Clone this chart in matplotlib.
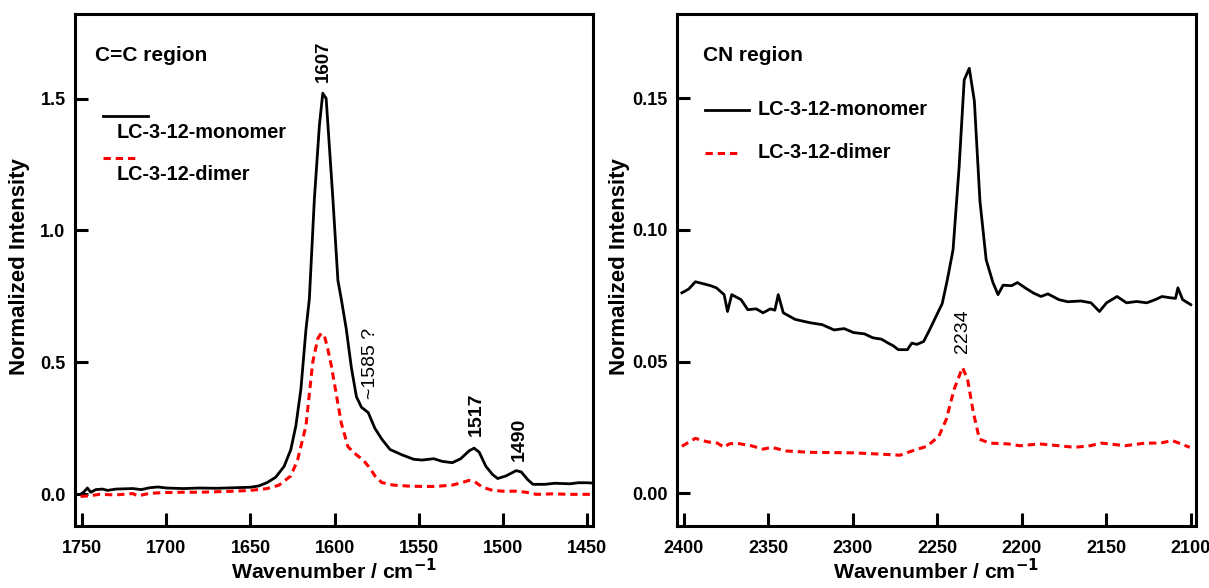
import numpy as np
import matplotlib
matplotlib.use('Agg')
import matplotlib.pyplot as plt

# ---- data ----
# C=C region
cc_x_mono = [1751, 1749, 1747, 1745, 1742, 1738, 1735, 1730, 1720, 1715, 1710, 1705,
             1700, 1690, 1680, 1670, 1660, 1650, 1645, 1640, 1635, 1630, 1626, 1623,
             1620, 1617, 1615, 1612, 1609, 1607, 1605, 1601, 1598, 1596, 1593, 1590,
             1587, 1584, 1580, 1576, 1572, 1567, 1560, 1553, 1548, 1541, 1536, 1530,
             1525, 1520, 1517, 1514, 1510, 1506, 1503, 1498, 1492, 1489, 1485, 1482,
             1475, 1469, 1460, 1455, 1450, 1447]
cc_y_mono = [0.000, 0.010, 0.024, 0.008, 0.018, 0.020, 0.015, 0.020, 0.022, 0.018, 0.025, 0.028,
             0.024, 0.022, 0.024, 0.023, 0.025, 0.027, 0.032, 0.045, 0.065, 0.106, 0.170, 0.260,
             0.400, 0.625, 0.740, 1.120, 1.400, 1.520, 1.500, 1.120, 0.810, 0.740, 0.625, 0.480,
             0.370, 0.330, 0.310, 0.250, 0.210, 0.170, 0.150, 0.133, 0.130, 0.135, 0.125, 0.120,
             0.135, 0.165, 0.175, 0.160, 0.106, 0.075, 0.060, 0.070, 0.090, 0.085, 0.055, 0.038,
             0.038, 0.042, 0.040, 0.044, 0.044, 0.043]

cc_x_dimer = [1751, 1745, 1740, 1730, 1720, 1717, 1710, 1700, 1690, 1680, 1670, 1660,
              1650, 1640, 1633, 1626, 1622, 1617, 1613, 1610, 1608, 1606, 1604, 1602,
              1599, 1596, 1592, 1587, 1583, 1579, 1576, 1572, 1565, 1555, 1548, 1540,
              1530, 1524, 1520, 1516, 1512, 1506, 1500, 1492, 1486, 1480, 1470, 1460,
              1450, 1447]
cc_y_dimer = [-0.008, -0.005, 0.000, -0.002, 0.003, -0.006, 0.004, 0.007, 0.008, 0.008, 0.010, 0.012,
              0.015, 0.022, 0.035, 0.070, 0.130, 0.260, 0.500, 0.590, 0.610, 0.600, 0.550, 0.490,
              0.380, 0.270, 0.180, 0.150, 0.130, 0.100, 0.070, 0.045, 0.035, 0.031, 0.030, 0.030,
              0.035, 0.045, 0.053, 0.045, 0.027, 0.015, 0.012, 0.012, 0.008, 0.000, 0.002, 0.000,
              0.000, 0.000]

# CN region
cn_x_mono = [2401, 2397, 2393, 2388, 2384, 2380.6, 2376, 2374, 2371.5, 2366, 2362, 2357,
             2353, 2348.6, 2346, 2344, 2341, 2334, 2325, 2318, 2311, 2305, 2299.5, 2293,
             2288, 2283, 2279, 2276, 2273, 2267.6, 2265, 2262, 2258, 2254.5, 2251, 2247,
             2244, 2240.6, 2237, 2234, 2231, 2228, 2224.7, 2221, 2217, 2214, 2211, 2206,
             2202.5, 2198, 2193, 2188.6, 2184.5, 2178, 2172.7, 2165, 2159, 2154, 2149.8, 2143.6,
             2138, 2132, 2126, 2121, 2117, 2112, 2109, 2107.6, 2104.8, 2100]
cn_y_mono = [0.0761, 0.0775, 0.0803, 0.0795, 0.0788, 0.0780, 0.0754, 0.0690, 0.0754, 0.0735, 0.0697, 0.0700,
             0.0685, 0.0700, 0.0695, 0.0754, 0.0685, 0.0660, 0.0647, 0.0640, 0.0620, 0.0625, 0.0610, 0.0605,
             0.0590, 0.0585, 0.0570, 0.0560, 0.0545, 0.0545, 0.0570, 0.0565, 0.0576, 0.0620, 0.0667, 0.0720,
             0.0810, 0.0924, 0.1240, 0.1570, 0.1614, 0.1490, 0.1110, 0.0886, 0.0800, 0.0754, 0.0790, 0.0788,
             0.0800, 0.0780, 0.0760, 0.0747, 0.0757, 0.0735, 0.0727, 0.0730, 0.0723, 0.0690, 0.0723, 0.0747,
             0.0723, 0.0728, 0.0723, 0.0735, 0.0747, 0.0742, 0.0740, 0.0780, 0.0735, 0.0716]

cn_x_dimer = [2401, 2393, 2386, 2380, 2376, 2373, 2369, 2360, 2353, 2348, 2339, 2325,
              2312, 2299.5, 2283, 2272, 2265, 2256, 2249, 2244.6, 2240, 2235, 2232, 2228.6,
              2225, 2219, 2208, 2201, 2189.5, 2178, 2168.8, 2159.6, 2152.7, 2138.8, 2127, 2118,
              2111, 2100.6]
cn_y_dimer = [0.0178, 0.0208, 0.0195, 0.0190, 0.0174, 0.0187, 0.0190, 0.0180, 0.0167, 0.0174, 0.0160, 0.0155,
              0.0154, 0.0153, 0.0148, 0.0144, 0.0160, 0.0178, 0.0216, 0.0280, 0.0394, 0.0477, 0.0432, 0.0307,
              0.0205, 0.0190, 0.0187, 0.0180, 0.0187, 0.0180, 0.0174, 0.0180, 0.0190, 0.0180, 0.0190, 0.0190,
              0.0200, 0.0174]

labels = ['LC-3-12-monomer', 'LC-3-12-dimer']

# ---- style ----
plt.rcParams['font.family'] = ['Liberation Sans', 'DejaVu Sans']
plt.rcParams['font.weight'] = 'bold'

fig = plt.figure(figsize=(12.09, 5.88), dpi=100)
ax1 = fig.add_axes([0.0617, 0.1054, 0.4288, 0.8707])
ax2 = fig.add_axes([0.5598, 0.1054, 0.4293, 0.8707])

dash = (2.4, 1.6)


def style_axes(ax, ylab_x):
    for s in ax.spines.values():
        s.set_linewidth(2.2)
    ax.tick_params(direction='in', length=9.5, width=2.2, labelsize=13, pad=6.5,
                   top=False, right=False)
    ax.tick_params(axis='x', pad=10)
    for t in ax.get_xticklabels() + ax.get_yticklabels():
        t.set_fontweight('bold')
    ax.set_xlabel('Wavenumber / cm$^{\\mathbf{-1}}$', fontsize=15.3, fontweight='bold', labelpad=1)
    ax.set_ylabel('Normalized Intensity', fontsize=16, fontweight='bold')
    ax.yaxis.set_label_coords(ylab_x, 0.507)


# left panel
ax1.plot(cc_x_mono, cc_y_mono, color='black', lw=2.0)
ax1.plot(cc_x_dimer, cc_y_dimer, color='#ff0000', lw=2.2, dashes=dash)
ax1.set_xlim(1754.6, 1446.3)
ax1.set_ylim(-0.12, 1.82)
ax1.set_xticks(np.arange(1750, 1449, -50))
ax1.set_yticks([0.0, 0.5, 1.0, 1.5])
ax1.set_yticklabels(['0.0', '0.5', '1.0', '1.5'])
style_axes(ax1, -0.086)

ax1.text(0.04, 0.92, 'C=C region', transform=ax1.transAxes, fontsize=15, va='center', ha='left')
ax1.plot([0.055, 0.142], [0.801, 0.801], transform=ax1.transAxes, color='black', lw=2.0)
ax1.text(0.082, 0.768, labels[0], transform=ax1.transAxes, fontsize=14.3, va='center', ha='left')
ax1.plot([0.055, 0.124], [0.719, 0.719], transform=ax1.transAxes, color='#ff0000', lw=2.2, dashes=dash)
ax1.text(0.082, 0.686, labels[1], transform=ax1.transAxes, fontsize=14.3, va='center', ha='left')

ax1.text(1606.5, 1.564, '1607', rotation=90, ha='center', va='bottom', fontsize=13.5,
         fontweight='bold')
ax1.text(1578.4, 0.496, '~1585 ?', rotation=90, ha='center', va='center', fontsize=14,
         fontweight='normal')
ax1.text(1515.6, 0.303, '1517', rotation=90, ha='center', va='center', fontsize=14,
         fontweight='bold')
ax1.text(1490.3, 0.208, '1490', rotation=90, ha='center', va='center', fontsize=14,
         fontweight='bold')

# right panel
ax2.plot(cn_x_mono, cn_y_mono, color='black', lw=2.0)
ax2.plot(cn_x_dimer, cn_y_dimer, color='#ff0000', lw=2.2, dashes=dash)
ax2.set_xlim(2404, 2097)
ax2.set_ylim(-0.0125, 0.182)
ax2.set_xticks(np.arange(2400, 2099, -50))
ax2.set_yticks([0.0, 0.05, 0.10, 0.15])
ax2.set_yticklabels(['0.00', '0.05', '0.10', '0.15'])
style_axes(ax2, -0.090)

ax2.text(0.05, 0.92, 'CN region', transform=ax2.transAxes, fontsize=15, va='center', ha='left')
ax2.plot([0.054, 0.140], [0.813, 0.813], transform=ax2.transAxes, color='black', lw=2.0)
ax2.text(0.156, 0.813, labels[0], transform=ax2.transAxes, fontsize=14.3, va='center', ha='left')
ax2.plot([0.054, 0.124], [0.729, 0.729], transform=ax2.transAxes, color='#ff0000', lw=2.2, dashes=dash)
ax2.text(0.156, 0.729, labels[1], transform=ax2.transAxes, fontsize=14.3, va='center', ha='left')

ax2.text(2235, 0.0614, '2234', rotation=90, ha='center', va='center', fontsize=14,
         fontweight='normal')

fig.savefig('out.png', dpi=100)
